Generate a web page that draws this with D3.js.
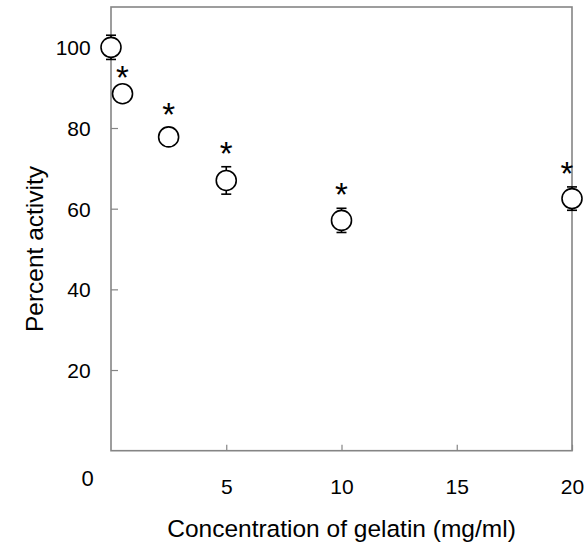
<!DOCTYPE html>
<html>
<head>
<meta charset="utf-8">
<script src="https://cdn.jsdelivr.net/npm/d3@7"></script>
<style>
  html, body { margin: 0; padding: 0; background: #fff; }
  svg { display: block; }
  text { font-family: "Liberation Sans", Arial, sans-serif; fill: #000; }
</style>
</head>
<body>
<svg id="chart" width="588" height="550"></svg>
<script>
// Gelatin concentration (mg/ml) and measured enzyme activity (% of control)
const concentration = [0, 0.5, 2.5, 5, 10, 20];
const activity      = [100, 88.5, 77.8, 67.0, 57.1, 62.5];
const activityErr   = [3.0, 0.7, 2.1, 3.4, 3.0, 2.9];
const significant   = [false, true, true, true, true, true];

const xTicks = [5, 10, 15, 20];
const yTicks = [20, 40, 60, 80, 100];
const xTitle = "Concentration of gelatin (mg/ml)";
const yTitle = "Percent activity";

const W = 588, H = 550;
const plot = { left: 111, right: 572, top: 7, bottom: 450.7 };

const svg = d3.select("#chart");

const x = d3.scaleLinear().domain([0, 20]).range([plot.left, plot.right]);
const y = d3.scaleLinear().domain([0, 110]).range([plot.bottom, plot.top]);

const axisColor = "#858585";

// Frame around the plotting area
svg.append("rect")
  .attr("x", plot.left).attr("y", plot.top)
  .attr("width", plot.right - plot.left).attr("height", plot.bottom - plot.top)
  .attr("fill", "none").attr("stroke", axisColor).attr("stroke-width", 1.6);

// Bottom axis: ticks point inward, labels placed below
const xAxis = d3.axisBottom(x).tickValues(xTicks).tickSize(-6).tickFormat(d3.format("d")).tickPadding(0);
const gx = svg.append("g").attr("transform", `translate(0,${plot.bottom})`).call(xAxis);
gx.select(".domain").remove();
gx.selectAll(".tick line").attr("stroke", axisColor).attr("stroke-width", 1.2);
gx.selectAll(".tick text")
  .attr("y", 43.6).attr("dy", null)
  .style("font-size", "21px").style("font-family", "Liberation Sans, Arial, sans-serif");

// Left axis: ticks point inward, labels placed to the left
const yAxis = d3.axisLeft(y).tickValues(yTicks).tickSize(-7).tickFormat(d3.format("d")).tickPadding(0);
const gy = svg.append("g").attr("transform", `translate(${plot.left},0)`).call(yAxis);
gy.select(".domain").remove();
gy.selectAll(".tick line").attr("stroke", axisColor).attr("stroke-width", 1.2);
gy.selectAll(".tick text")
  .attr("x", -20.3).attr("dy", "0.36em")
  .style("font-size", "21px").style("font-family", "Liberation Sans, Arial, sans-serif");

// Shared origin label
svg.append("text")
  .attr("x", x(0) - 23.5).attr("y", y(0) + 35.5)
  .attr("text-anchor", "middle")
  .style("font-size", "22px")
  .text("0");

// Axis titles
svg.append("text")
  .attr("x", (plot.left + plot.right) / 2).attr("y", 537)
  .attr("text-anchor", "middle")
  .style("font-size", "24.5px")
  .text(xTitle);

svg.append("text")
  .attr("transform", "translate(43.3,249) rotate(-90)")
  .attr("text-anchor", "middle")
  .style("font-size", "24.5px")
  .text(yTitle);

const data = concentration.map((c, i) => ({
  c, v: activity[i], e: activityErr[i], sig: significant[i]
}));

// Error bars with caps (drawn beneath the markers)
const capHalf = 5;
const eb = svg.append("g").attr("stroke", "#000").attr("stroke-width", 1.6).attr("fill", "none");
data.forEach(d => {
  const cx = x(d.c), y1 = y(d.v + d.e), y2 = y(d.v - d.e);
  eb.append("line").attr("x1", cx).attr("x2", cx).attr("y1", y1).attr("y2", y2);
  eb.append("line").attr("x1", cx - capHalf).attr("x2", cx + capHalf).attr("y1", y1).attr("y2", y1);
  eb.append("line").attr("x1", cx - capHalf).attr("x2", cx + capHalf).attr("y1", y2).attr("y2", y2);
});

// Open circle markers
svg.append("g").selectAll("circle")
  .data(data).join("circle")
  .attr("cx", d => x(d.c)).attr("cy", d => y(d.v))
  .attr("r", 10)
  .attr("fill", "#fff").attr("stroke", "#000").attr("stroke-width", 1.6);

// Significance asterisks above the upper error bar
svg.append("g").selectAll("text")
  .data(data.filter(d => d.sig)).join("text")
  .attr("x", d => Math.min(x(d.c), plot.right - 5))
  .attr("y", d => y(d.v + d.e) - 21 + 19)
  .attr("text-anchor", "middle")
  .style("font-size", "33px")
  .text("*");
</script>
</body>
</html>
